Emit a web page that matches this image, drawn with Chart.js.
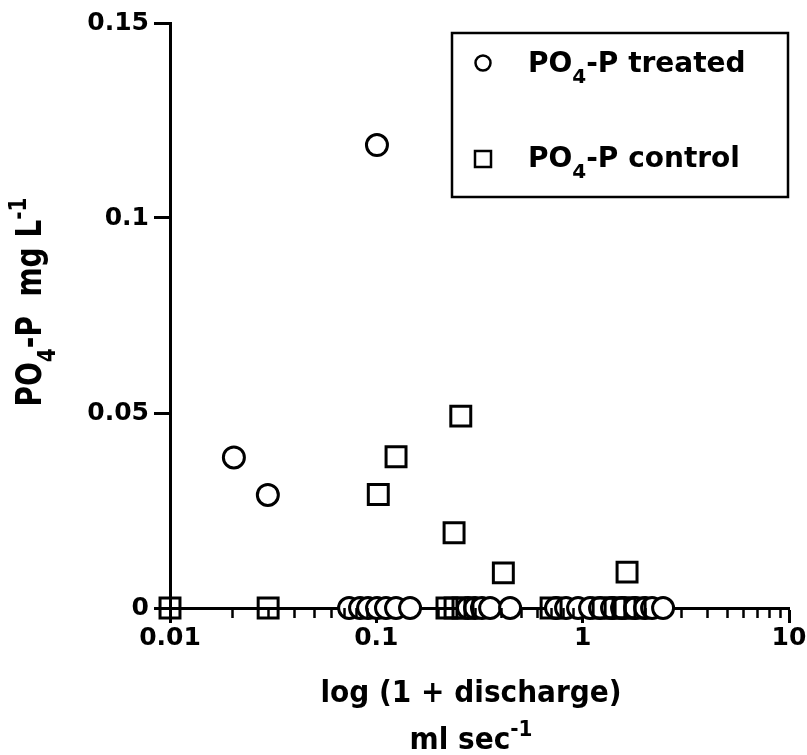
<!DOCTYPE html>
<html>
<head>
<meta charset="utf-8">
<script src="https://cdn.jsdelivr.net/npm/chart.js@4/dist/chart.umd.min.js"></script>
<style>
  html, body { margin: 0; padding: 0; background: #ffffff; }
  #wrap { width: 807px; height: 755px; position: relative; }
</style>
</head>
<body>
<div id="wrap"><canvas id="c" width="807" height="755"></canvas></div>
<script>
// ---- data ----
const xTickValues = [0.01, 0.1, 1, 10];
const xTickLabels = ['0.01', '0.1', '1', '10'];
const yTickValues = [0, 0.05, 0.1, 0.15];
const yTickLabels = ['0', '0.05', '0.1', '0.15'];

const treatedX = [0.0204, 0.0298, 0.1007,
  0.0738, 0.0834, 0.0912, 0.1008, 0.1114, 0.1246, 0.1457,
  0.278, 0.301, 0.325, 0.356, 0.445,
  0.743, 0.831, 0.95, 1.086, 1.214, 1.388, 1.552, 1.795, 2.007, 2.17, 2.453];
const treatedY = [0.0386, 0.029, 0.1187,
  0, 0, 0, 0, 0, 0, 0,
  0, 0, 0, 0, 0,
  0, 0, 0, 0, 0, 0, 0, 0, 0, 0, 0];

const controlX = [0.1022, 0.1246, 0.2566, 0.2381, 0.4126, 1.641,
  0.01, 0.0299, 0.220, 0.2407, 0.263, 0.703, 1.256, 1.436, 1.605, 1.795];
const controlY = [0.0291, 0.0388, 0.0492, 0.0193, 0.009, 0.0092,
  0, 0, 0, 0, 0, 0, 0, 0, 0, 0];

// rich-text labels (sub / sup parts)
const seriesTreatedLabel = [{t: 'PO'}, {t: '4', sub: true}, {t: '-P treated'}];
const seriesControlLabel = [{t: 'PO'}, {t: '4', sub: true}, {t: '-P control'}];
const yTitleParts = [{t: 'PO'}, {t: '4', sub: true}, {t: '-P  mg L'}, {t: '-1', sup: true}];
const xTitleLine1 = [{t: 'log (1 + discharge)'}];
const xTitleLine2 = [{t: 'ml sec'}, {t: '-1', sup: true}];

// ---- helpers ----
const FAM = '"DejaVu Sans", "Liberation Sans", Arial, sans-serif';
function partFont(p, size) {
  const s = (p.sub || p.sup) ? Math.round(size * 0.7) : size;
  return 'bold ' + s + 'px ' + FAM;
}
function richWidth(ctx, parts, size) {
  let w = 0;
  for (const p of parts) { ctx.font = partFont(p, size); w += ctx.measureText(p.t).width; }
  return w;
}
function drawRich(ctx, parts, x, y, size, align) {
  const w = richWidth(ctx, parts, size);
  let cx = align === 'center' ? x - w / 2 : x;
  ctx.textAlign = 'left';
  ctx.textBaseline = 'alphabetic';
  for (const p of parts) {
    ctx.font = partFont(p, size);
    const dy = p.sub ? size * 0.4 : (p.sup ? -size * 0.42 : 0);
    ctx.fillText(p.t, cx, y + dy);
    cx += ctx.measureText(p.t).width;
  }
}

const decorPlugin = {
  id: 'decor',
  afterDraw(chart) {
    const ctx = chart.ctx;
    const xs = chart.scales.x;
    ctx.save();
    ctx.fillStyle = '#000';
    ctx.strokeStyle = '#000';

    // minor log ticks on x axis
    const axisY = xs.top;
    ctx.lineWidth = 2.5;
    ctx.beginPath();
    for (let d = 0; d < xTickValues.length - 1; d++) {
      for (let m = 2; m <= 9; m++) {
        const px = Math.round(xs.getPixelForValue(xTickValues[d] * m)) + 0.5;
        ctx.moveTo(px, axisY);
        ctx.lineTo(px, axisY + 10);
      }
    }
    ctx.stroke();

    // axis titles
    ctx.save();
    ctx.translate(0, 702);
    ctx.scale(1, 1.1);
    drawRich(ctx, xTitleLine1, 471, 0, 28, 'center');
    ctx.restore();
    ctx.save();
    ctx.translate(0, 749);
    ctx.scale(1, 1.1);
    drawRich(ctx, xTitleLine2, 471, 0, 28, 'center');
    ctx.restore();

    ctx.save();
    ctx.translate(41, 302);
    ctx.scale(1.25, 1);
    ctx.rotate(-Math.PI / 2);
    drawRich(ctx, yTitleParts, 0, 0, 28, 'center');
    ctx.restore();

    // legend
    ctx.lineWidth = 2.5;
    ctx.strokeRect(452, 33, 336, 164);
    ctx.beginPath();
    ctx.arc(483, 63, 7.5, 0, Math.PI * 2);
    ctx.fillStyle = '#fff';
    ctx.fill();
    ctx.stroke();
    ctx.strokeRect(475, 151, 16, 16);
    ctx.fillStyle = '#000';
    drawRich(ctx, seriesTreatedLabel, 528, 72, 28, 'left');
    drawRich(ctx, seriesControlLabel, 528, 167, 28, 'left');
    ctx.restore();
  }
};

function toPoints(xs, ys) { return xs.map((x, i) => ({x: x, y: ys[i]})); }

const tickFont = {family: FAM, weight: 'bold', size: 25};

new Chart(document.getElementById('c'), {
  type: 'scatter',
  data: {
    datasets: [
      {
        label: 'PO4-P treated',
        data: toPoints(treatedX, treatedY),
        pointStyle: 'circle',
        pointRadius: 10.5,
        pointBorderWidth: 3,
        pointBorderColor: '#000',
        pointBackgroundColor: '#fff',
        clip: false,
        order: 2
      },
      {
        label: 'PO4-P control',
        data: toPoints(controlX, controlY),
        pointStyle: 'rect',
        pointRadius: 14.1,
        pointBorderWidth: 3,
        pointBorderColor: '#000',
        pointBackgroundColor: 'rgba(0,0,0,0)',
        clip: false,
        order: 1
      }
    ]
  },
  options: {
    responsive: false,
    animation: false,
    devicePixelRatio: 1,
    layout: {padding: {top: 23, right: 18, bottom: 0, left: 0}},
    plugins: {legend: {display: false}, tooltip: {enabled: false}},
    events: [],
    scales: {
      x: {
        type: 'logarithmic',
        min: 0.01,
        max: 10,
        position: 'bottom',
        afterBuildTicks: s => { s.ticks = xTickValues.map(v => ({value: v, major: true})); },
        afterFit: s => { s.height = 147; },
        ticks: {
          callback: (v, i) => xTickLabels[i],
          font: tickFont, color: '#000', padding: 0,
          autoSkip: false, maxRotation: 0, minRotation: 0
        },
        grid: {drawOnChartArea: false, drawTicks: true, tickLength: 15, tickWidth: 3, tickColor: '#000'},
        border: {display: true, width: 3, color: '#000'}
      },
      y: {
        type: 'linear',
        min: 0,
        max: 0.15,
        afterBuildTicks: s => { s.ticks = yTickValues.map(v => ({value: v})); },
        afterFit: s => { s.width = 170; },
        ticks: {
          callback: (v, i) => yTickLabels[i],
          font: tickFont, color: '#000', padding: 5
        },
        grid: {drawOnChartArea: false, drawTicks: true, tickLength: 16, tickWidth: 3, tickColor: '#000'},
        border: {display: true, width: 3, color: '#000'}
      }
    }
  },
  plugins: [decorPlugin]
});
</script>
</body>
</html>
